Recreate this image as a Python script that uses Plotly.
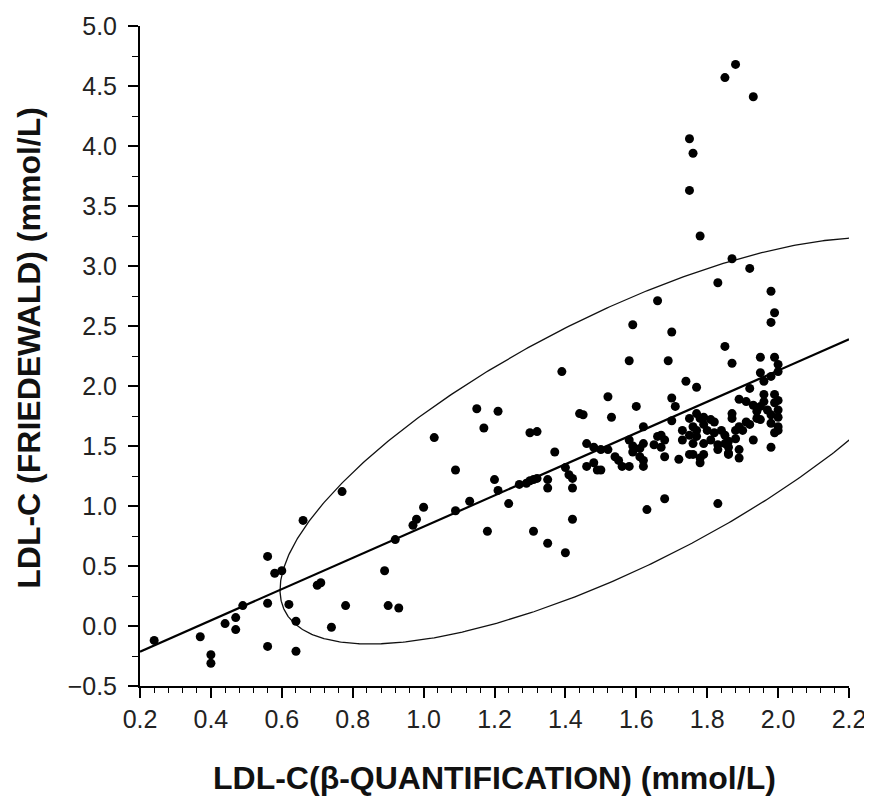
import numpy as np
import plotly.graph_objects as go

# ---- data (LDL-C beta-quantification vs Friedewald, mmol/L)
x_beta = [
    0.24, 0.37, 0.40, 0.40, 0.44, 0.47, 0.47, 0.49, 0.56, 0.56, 0.56, 0.58, 0.60, 0.62, 0.64, 0.64,
    0.66, 0.70, 0.71, 0.74, 0.78, 0.89, 0.90, 0.93, 0.92,
    0.77, 0.97, 0.98, 1.00, 1.03, 1.09, 1.09, 1.13, 1.15, 1.17, 1.18, 1.21, 1.20, 1.21, 1.24,
    1.27, 1.29, 1.30, 1.31, 1.32, 1.30, 1.32, 1.31, 1.35, 1.35, 1.35, 1.37, 1.39, 1.40, 1.40,
    1.41, 1.42, 1.42, 1.42, 1.44, 1.45,
    1.46, 1.46, 1.48, 1.49, 1.48, 1.50, 1.52, 1.50,
    1.52, 1.53, 1.54, 1.55, 1.56, 1.58, 1.58, 1.59, 1.61, 1.62, 1.59, 1.61, 1.62, 1.62, 1.60,
    1.62, 1.58, 1.59, 1.63,
    1.66, 1.69, 1.70, 1.66, 1.67, 1.68, 1.65, 1.67, 1.68, 1.70, 1.70, 1.71, 1.68, 1.72,
    1.73, 1.73, 1.75, 1.76, 1.75, 1.77, 1.76, 1.75, 1.74, 1.77, 1.77, 1.78, 1.77, 1.79, 1.79,
    1.79, 1.78, 1.79, 1.78, 1.75, 1.76, 1.75, 1.76, 1.78,
    1.81, 1.82, 1.80, 1.82, 1.84, 1.85, 1.81, 1.83, 1.85, 1.86, 1.88, 1.83, 1.86, 1.86, 1.89,
    1.86, 1.89, 1.83, 1.83, 1.85, 1.87, 1.87, 1.87, 1.87, 1.88, 1.89, 1.89, 1.85, 1.88,
    1.90, 1.91, 1.92, 1.91, 1.92, 1.92, 1.93, 1.93, 1.93, 1.95, 1.96, 1.99, 2.00, 1.94, 1.97,
    1.98, 2.00, 1.94, 1.95, 1.98, 2.00, 1.99, 2.00, 1.98, 1.96, 1.99, 2.00, 1.95, 1.96, 1.98,
    2.00, 1.95, 1.99, 2.00, 1.98, 1.99, 1.98,
]
y_friedewald = [
    -0.12, -0.09, -0.24, -0.31, 0.02, 0.07, -0.03, 0.17, 0.58, 0.19, -0.17, 0.44, 0.46, 0.18, 0.04, -0.21,
    0.88, 0.34, 0.36, -0.01, 0.17, 0.46, 0.17, 0.15, 0.72,
    1.12, 0.84, 0.89, 0.99, 1.57, 0.96, 1.30, 1.04, 1.81, 1.65, 0.79, 1.79, 1.22, 1.13, 1.02,
    1.18, 1.19, 1.21, 1.22, 1.23, 1.61, 1.62, 0.79, 1.22, 1.15, 0.69, 1.45, 2.12, 0.61, 1.32,
    1.26, 1.23, 1.15, 0.89, 1.77, 1.76,
    1.52, 1.33, 1.36, 1.30, 1.49, 1.47, 1.47, 1.30,
    1.91, 1.74, 1.41, 1.38, 1.33, 1.33, 1.55, 1.50, 1.48, 1.52, 1.45, 1.41, 1.38, 1.33, 1.83,
    1.66, 2.21, 2.51, 0.97,
    2.71, 2.21, 2.45, 1.58, 1.59, 1.55, 1.51, 1.49, 1.41, 1.71, 1.90, 1.83, 1.06, 1.39,
    1.63, 1.55, 1.73, 1.66, 1.59, 1.58, 1.52, 1.43, 2.04, 1.99, 1.77, 1.73, 1.63, 1.68, 1.74,
    1.52, 1.40, 1.43, 3.25, 4.06, 3.94, 3.63, 1.43, 1.36,
    1.72, 1.70, 1.63, 1.61, 1.63, 1.59, 1.55, 1.51, 1.52, 1.54, 1.56, 1.47, 1.49, 1.44, 1.47,
    1.43, 1.40, 1.02, 2.86, 2.33, 2.19, 3.06, 1.77, 1.73, 1.63, 1.66, 1.89, 4.57, 4.68,
    1.63, 1.70, 1.68, 1.87, 1.98, 2.98, 4.41, 1.55, 1.84, 1.83, 1.87, 1.86, 1.80, 1.79, 1.80,
    1.76, 1.74, 1.73, 1.72, 1.69, 1.66, 1.61, 1.63, 1.49, 1.93, 1.93, 1.88, 2.11, 2.04, 2.08,
    2.12, 2.24, 2.24, 2.18, 2.79, 2.61, 2.53,
]

# regression line and concentration ellipse parameters
fit_slope = 1.3015
fit_intercept = -0.474
ell_cx = 1.55      # ellipse centre (x)
ell_halfwidth = 0.955
ell_halfheight = 1.15

x_ticks = [0.2, 0.4, 0.6, 0.8, 1.0, 1.2, 1.4, 1.6, 1.8, 2.0, 2.2]
y_ticks = [-0.5, 0.0, 0.5, 1.0, 1.5, 2.0, 2.5, 3.0, 3.5, 4.0, 4.5, 5.0]

# ---- derived curves
line_x = np.array([x_ticks[0], x_ticks[-1]])
line_y = fit_intercept + fit_slope * line_x

t = np.linspace(0, 2 * np.pi, 721)
ell_x = ell_cx + ell_halfwidth * np.cos(t)
ell_y = fit_intercept + fit_slope * ell_x + ell_halfheight * np.sin(t)

fig = go.Figure()
fig.add_trace(go.Scatter(x=ell_x, y=ell_y, mode="lines",
                         line=dict(color="#111", width=1.3), hoverinfo="skip"))
fig.add_trace(go.Scatter(x=line_x, y=line_y, mode="lines",
                         line=dict(color="#000", width=2.2), hoverinfo="skip"))
fig.add_trace(go.Scatter(x=x_beta, y=y_friedewald, mode="markers",
                         marker=dict(color="#000", size=9, line=dict(width=0))))

tickfont = dict(family="Liberation Sans, Arial, sans-serif", size=25, color="#222")
fig.update_xaxes(range=[x_ticks[0], x_ticks[-1]], tickvals=x_ticks, tickformat=".1f",
                 ticks="outside", ticklen=10, tickwidth=1.5, tickcolor="#000",
                 showline=True, linewidth=2, linecolor="#000",
                 showgrid=False, zeroline=False, tickfont=tickfont,
                 ticklabelstandoff=0, automargin=False,
                 minor=dict(tick0=0.2, dtick=0.04, ticks="outside", ticklen=5,
                            tickwidth=1.2, tickcolor="#000", showgrid=False))
fig.update_yaxes(range=[y_ticks[0], y_ticks[-1]], tickvals=y_ticks, tickformat=".1f",
                 ticks="outside", ticklen=10, tickwidth=1.5, tickcolor="#000",
                 showline=True, linewidth=2, linecolor="#000",
                 showgrid=False, zeroline=False, tickfont=tickfont,
                 ticklabelstandoff=6, automargin=False,
                 minor=dict(tick0=-0.5, dtick=0.25, ticks="outside", ticklen=6,
                            tickwidth=1.2, tickcolor="#000", showgrid=False))

titlefont = dict(family="Liberation Sans, Arial, sans-serif", size=32, color="#111")
fig.add_annotation(text="<b>LDL-C(β-QUANTIFICATION) (mmol/L)</b>", xref="paper", yref="paper",
                   x=0.5, y=-0.139, xanchor="center", yanchor="middle",
                   showarrow=False, font=titlefont)
fig.add_annotation(text="<b>LDL-C (FRIEDEWALD) (mmol/L)</b>", xref="paper", yref="paper",
                   x=-0.157, y=0.512, xanchor="center", yanchor="middle", textangle=-90,
                   showarrow=False, font=titlefont)

# the page body has an 8px margin, so the figure is made 8px smaller and margins shifted
fig.update_layout(width=864, height=788, showlegend=False,
                  plot_bgcolor="white", paper_bgcolor="white",
                  margin=dict(l=132, r=23, t=18, b=110))

fig.write_html("out.html")
